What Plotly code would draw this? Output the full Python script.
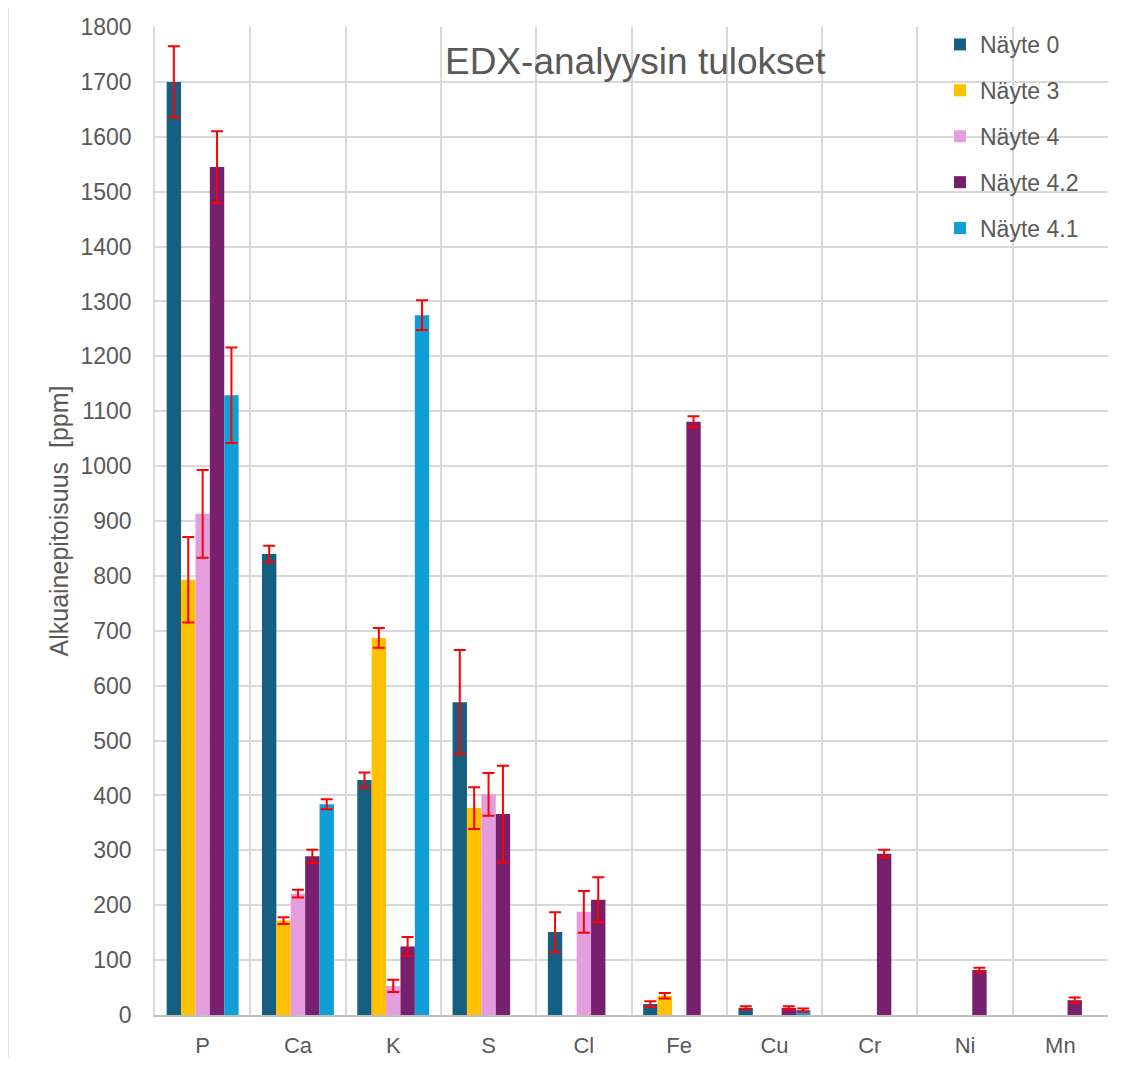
import plotly.graph_objects as go

categories = ["P", "Ca", "K", "S", "Cl", "Fe", "Cu", "Cr", "Ni", "Mn"]
series_names = ["Näyte 0", "Näyte 3", "Näyte 4", "Näyte 4.2", "Näyte 4.1"]

nayte0 = [1700, 840, 428, 570, 151, 20, 13, None, None, None]
nayte0_err = [65, 15, 14, 95, 36, 5, 3, None, None, None]

nayte3 = [793, 172, 687, 377, None, 35, None, None, None, None]
nayte3_err = [78, 6, 18, 38, None, 5, None, None, None, None]

nayte4 = [913, 221, 53, 402, 188, None, None, None, None, None]
nayte4_err = [80, 7, 11, 39, 38, None, None, None, None, None]

nayte42 = [1545, 289, 125, 366, 210, 1081, 13, 294, 82, 27]
nayte42_err = [65, 12, 17, 88, 41, 10, 3, 7, 4, 5]

nayte41 = [1129, 384, 1275, None, None, None, 9, None, None, None]
nayte41_err = [87, 9, 27, None, None, None, 3, None, None, None]

values = [nayte0, nayte3, nayte4, nayte42, nayte41]
errors = [nayte0_err, nayte3_err, nayte4_err, nayte42_err, nayte41_err]
colors = ["#156082", "#FFC000", "#E59EDD", "#78206E", "#0F9ED5"]

y_ticks = list(range(0, 1801, 100))

FONT = "Liberation Sans, Arial, sans-serif"
GREY = "#595959"

fig = go.Figure()
for name, vals, errs, col in zip(series_names, values, errors, colors):
    fig.add_trace(go.Bar(
        name=name, x=categories, y=vals, marker_color=col, marker_line_width=0,
        legendgroup=name,
        error_y=dict(type="data", array=errs, visible=True, color="#FF0000",
                     thickness=2, width=6),
    ))

OFF = 8  # page body margin
W, H = 1125 - 2 * OFF, 1066 - 2 * OFF
PL, PR, PT, PB = 155, 1108, 27, 1015  # plot area in page pixels
L = PL - OFF
T = PT - OFF
R = W + OFF - PR
B = H + OFF - PB
pw = PR - PL
ph = PB - PT

def px_x(px):
    return (px - PL) / pw

def px_y(py):
    return (PB - py) / ph

fig.update_layout(
    width=W, height=H,
    margin=dict(l=L, r=R, t=T, b=B, autoexpand=False),
    paper_bgcolor="white", plot_bgcolor="white",
    barmode="group", bargap=0.245, bargroupgap=0,
    font=dict(family=FONT, color=GREY, size=22),
    legend=dict(
        x=px_x(940), y=px_y(23), xanchor="left", yanchor="top",
        bgcolor="rgba(0,0,0,0)", font=dict(size=23, color=GREY),
        traceorder="grouped", tracegroupgap=13, itemwidth=30,
    ),
    xaxis=dict(
        type="category", tickson="boundaries", showgrid=True,
        gridcolor="#D9D9D9", gridwidth=1.5, automargin=False,
        showline=True, linecolor="#BFBFBF", linewidth=1.5,
        ticks="", ticklabelstandoff=10, tickfont=dict(size=22, color=GREY),
    ),
    yaxis=dict(
        range=[0, 1800], tickvals=y_ticks, showgrid=True,
        gridcolor="#D9D9D9", gridwidth=1.5, zeroline=False, automargin=False,
        showline=True, linecolor="#D9D9D9", linewidth=1.5,
        ticks="", ticklabelstandoff=17, tickfont=dict(size=23, color=GREY),
        title=dict(text="Alkuainepitoisuus  [ppm]", standoff=5,
                   font=dict(size=25, color=GREY)),
    ),
    shapes=[
        dict(type="rect", xref="paper", yref="paper",
             x0=px_x(928), x1=px_x(1113), y0=px_y(249), y1=px_y(20),
             fillcolor="white", line_width=0, layer="between"),
        dict(type="line", xref="paper", yref="paper",
             x0=px_x(8), x1=px_x(8), y0=px_y(1066), y1=px_y(0),
             line=dict(color="#D9D9D9", width=1.5)),
    ],
    annotations=[
        dict(text="EDX-analyysin tulokset", xref="paper", yref="paper",
             x=px_x(635), y=px_y(62), xanchor="center", yanchor="middle",
             showarrow=False, font=dict(size=37, color=GREY, family=FONT)),
    ],
)

fig.write_html("out.html")
